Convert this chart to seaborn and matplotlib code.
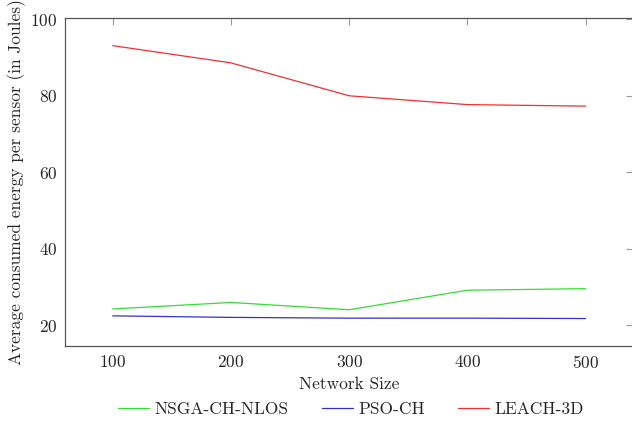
import matplotlib
matplotlib.use("Agg")
import matplotlib.pyplot as plt
import seaborn as sns
import pandas as pd

network_size = [100, 200, 300, 400, 500]
nsga_ch_nlos = [24.3, 26.0, 24.1, 29.2, 29.6]
pso_ch = [22.5, 22.1, 21.9, 21.9, 21.8]
leach_3d = [93.1, 88.6, 80.0, 77.7, 77.3]

series_names = ["NSGA-CH-NLOS", "PSO-CH", "LEACH-3D"]
series_colors = ["#33dd33", "#3333cc", "#f03030"]

sns.set_style("white")
plt.rcParams.update({
    'font.family': ['cmr10', 'DejaVu Serif'],
    'mathtext.fontset': 'cm',
    'axes.formatter.use_mathtext': True,
    'font.size': 12.5,
    'axes.unicode_minus': False,
})

df = pd.DataFrame({
    "size": network_size * 3,
    "energy": nsga_ch_nlos + pso_ch + leach_3d,
    "algo": [n for n in series_names for _ in network_size],
})

fig = plt.figure(figsize=(6.32, 4.22), dpi=100)
ax = fig.add_axes([0.1035, 0.1808, 0.898, 0.7754])

sns.lineplot(data=df, x="size", y="energy", hue="algo", hue_order=series_names,
             palette=series_colors, linewidth=0.9, ax=ax, legend=False)

ax.set_xlim(60, 540)
ax.set_ylim(14.7, 100.2)
ax.set_xticks(network_size)
ax.set_yticks([20, 40, 60, 80, 100])
ax.tick_params(direction='in', length=5, width=0.8, color='#999999',
               top=True, right=True, labelsize=12.5, pad=6)
for s in ax.spines.values():
    s.set_color('#555555')
    s.set_linewidth(0.9)

ax.set_xlabel("Network Size", fontsize=12.5, labelpad=4)
ax.set_ylabel("Average consumed energy per sensor (in Joules)", fontsize=12.5, labelpad=3)

handles = [plt.Line2D([], [], color=c, lw=0.9) for c in series_colors]
fig.legend(handles, series_names, loc='lower center', bbox_to_anchor=(0.555, -0.025),
           ncol=3, frameon=False, fontsize=12.5, handlelength=1.8, columnspacing=1.9,
           handletextpad=0.3)

fig.savefig("out.png", dpi=100)
